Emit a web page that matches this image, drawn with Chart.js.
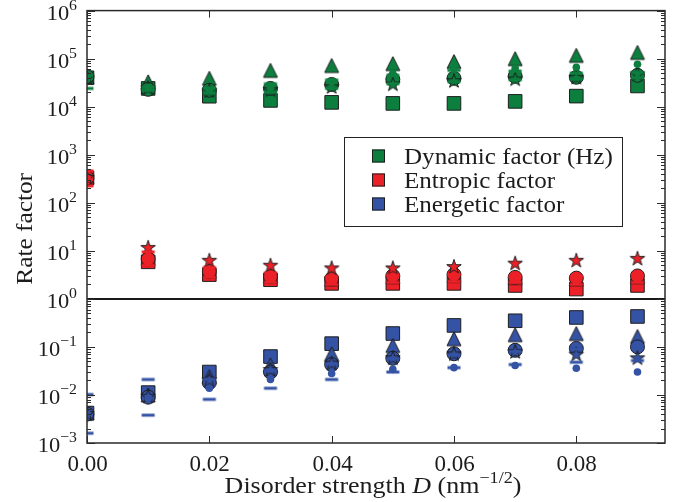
<!DOCTYPE html>
<html>
<head>
<meta charset="utf-8">
<script src="https://cdn.jsdelivr.net/npm/chart.js@4/dist/chart.umd.min.js"></script>
<style>
  html, body { margin: 0; padding: 0; background: #fff; }
  #wrap { width: 682px; height: 502px; }
</style>
</head>
<body>
<div id="wrap"><canvas id="c" width="682" height="502"></canvas></div>
<script>
// Disorder strength D (nm^-1/2)
const disorder = [0, 0.01, 0.02, 0.03, 0.04, 0.05, 0.06, 0.07, 0.08, 0.09];

// Dynamic factor (Hz)
const dynSquare   = [40000, 24000, 16500, 13500, 12300, 11700, 11700, 12900, 16600, 27000];
const dynTriangle = [42000, 33000, 39000, 57000, 72000, 79000, 87000, 100000, 117000, 135000];
const dynCircle   = [42000, 23000, 22000, 24000, 29000, 37000, 39000, 43000, 41000, 45000];
const dynStar     = [40000, 24000, 21000, 22000, 25500, 29000, 34000, 37000, 40000, 47000];
const dynDot      = [38000, 25000, 22000, 26000, 33000, 49000, 63000, 63000, 66000, 76000];
const dynDashHigh = [45000, 26000, 24000, 30000, 36000, 45000, 57000, 55000, 50000, 52000];
const dynDashLow  = [24000, 22000, 19000, 20000, 24000, 30000, 33000, 36000, 38000, 40000];

// Entropic factor
const entSquare   = [330, 5.9, 3.2, 2.5, 2.1, 2.1, 2.1, 1.9, 1.6, 1.9];
const entTriangle = [340, 7.0, 3.8, 3.0, 2.6, 2.9, 3.1, 2.8, 2.6, 2.9];
const entCircle   = [330, 6.8, 3.7, 2.9, 2.6, 3.0, 3.2, 2.8, 2.7, 3.0];
const entStar     = [330, 11.5, 6.2, 4.9, 4.3, 4.3, 4.6, 5.4, 6.2, 6.8];
const entDot      = [320, 7.5, 4.0, 3.2, 2.8, 2.9, 3.0, 2.9, 2.8, 3.0];
const entDashHigh = [460, 9.5, 4.5, 3.5, 2.9, 3.1, 3.2, 3.0, 2.9, 3.1];
const entDashLow  = [225, 5.0, 2.8, 2.2, 2.0, 2.2, 2.3, 2.2, 2.0, 2.2];

// Energetic factor
const eneSquare   = [0.0042, 0.0112, 0.030, 0.063, 0.117, 0.19, 0.28, 0.35, 0.41, 0.43];
const eneTriangle = [0.0042, 0.0100, 0.024, 0.042, 0.072, 0.107, 0.148, 0.18, 0.19, 0.165];
const eneCircle   = [0.0040, 0.0090, 0.018, 0.030, 0.043, 0.058, 0.072, 0.085, 0.093, 0.10];
const eneStar     = [0.0040, 0.0092, 0.020, 0.033, 0.045, 0.058, 0.070, 0.078, 0.069, 0.058];
const eneDot      = [0.0040, 0.0085, 0.0138, 0.021, 0.028, 0.034, 0.037, 0.041, 0.036, 0.030];
const eneDashHigh = [0.0102, 0.021, 0.021, 0.032, 0.044, 0.057, 0.068, 0.080, 0.090, 0.100];
const eneDashLow  = [0.0016, 0.0038, 0.0081, 0.0138, 0.021, 0.030, 0.037, 0.043, 0.048, 0.052];

// Axis ticks and legend text
const xTickValues = [0, 0.02, 0.04, 0.06, 0.08];
const xTickLabels = ['0.00', '0.02', '0.04', '0.06', '0.08'];
const yExponents = [-3, -2, -1, 0, 1, 2, 3, 4, 5, 6];
const legendLabels = ['Dynamic factor (Hz)', 'Entropic factor', 'Energetic factor'];

const GREEN = '#0c7f3f';
const RED = '#ec2027';
const BLUE = '#3553a5';
const EDGE = '#1e1e1e';
const INK = '#1c1c1c';
const FONT = '"Liberation Serif", "Times New Roman", serif';

function markerCanvas(size, draw) {
  const cv = document.createElement('canvas');
  cv.width = size; cv.height = size;
  const g = cv.getContext('2d');
  g.translate(size / 2, size / 2);
  draw(g);
  return cv;
}
function starMarker(color) {
  return markerCanvas(20, g => {
    const R = 7.6, r = R * 0.382;
    g.beginPath();
    for (let i = 0; i < 10; i++) {
      const rad = i % 2 ? r : R;
      const a = -Math.PI / 2 + i * Math.PI / 5;
      const px = Math.cos(a) * rad, py = Math.sin(a) * rad;
      i ? g.lineTo(px, py) : g.moveTo(px, py);
    }
    g.closePath();
    g.fillStyle = color; g.fill();
    g.strokeStyle = EDGE; g.lineWidth = 1; g.stroke();
  });
}
function triangleMarker(color) {
  return markerCanvas(20, g => {
    const h = 7;
    g.beginPath();
    g.moveTo(0, -h); g.lineTo(h, h); g.lineTo(-h, h); g.closePath();
    g.fillStyle = color; g.fill();
    g.strokeStyle = EDGE; g.lineWidth = 1; g.stroke();
  });
}
function dashMarker(color) {
  return markerCanvas(18, g => {
    g.fillStyle = color;
    g.fillRect(-6.5, -1.5, 13, 3);
  });
}

function series(values, color, kind) {
  const base = {
    data: disorder.map((x, i) => ({ x, y: values[i] })),
    showLine: false,
    backgroundColor: color,
    borderColor: EDGE,
    borderWidth: 1
  };
  if (kind === 'square') return { ...base, pointStyle: 'rect', pointRadius: 9.6, order: 7 };
  if (kind === 'triangle') return { ...base, pointStyle: triangleMarker(color), pointRadius: 8, order: 6 };
  if (kind === 'circle') return { ...base, pointStyle: 'circle', pointRadius: 7, order: 5 };
  if (kind === 'star') return { ...base, pointStyle: starMarker(color), pointRadius: 8, order: 4 };
  if (kind === 'dot') return { ...base, pointStyle: 'circle', pointRadius: 3.8, borderWidth: 0, order: 2 };
  return { ...base, pointStyle: dashMarker(color), pointRadius: 7, borderWidth: 0, order: 3 };
}

const groups = [
  [GREEN, [dynSquare, dynTriangle, dynCircle, dynStar, dynDot, dynDashHigh, dynDashLow]],
  [RED,   [entSquare, entTriangle, entCircle, entStar, entDot, entDashHigh, entDashLow]],
  [BLUE,  [eneSquare, eneTriangle, eneCircle, eneStar, eneDot, eneDashHigh, eneDashLow]]
];
const kinds = ['square', 'triangle', 'circle', 'star', 'dot', 'dash', 'dash'];
const datasets = [];
groups.forEach(([color, arrs]) => arrs.forEach((a, k) => datasets.push(series(a, color, kinds[k]))));

// Text runs with optional superscripts and a horizontal stretch factor.
// parts: [text, fontSize, baselineShift, italic]
function drawRuns(ctx, parts, x, y, align, hs) {
  const fontOf = p => (p[3] ? 'italic ' : '') + p[1] + 'px ' + FONT;
  const widths = parts.map(p => { ctx.font = fontOf(p); return ctx.measureText(p[0]).width * hs; });
  const total = widths.reduce((s, w) => s + w, 0);
  let cx = align === 'right' ? x - total : align === 'center' ? x - total / 2 : x;
  ctx.textAlign = 'left';
  ctx.textBaseline = 'alphabetic';
  parts.forEach((p, i) => {
    ctx.save();
    ctx.font = fontOf(p);
    ctx.translate(cx, y + p[2]);
    ctx.scale(hs, 1);
    ctx.fillText(p[0], 0, 0);
    ctx.restore();
    cx += widths[i];
  });
}

const axesDecor = {
  id: 'axesDecor',
  beforeDatasetsDraw(chart) {
    const { ctx, chartArea: a, scales: { y } } = chart;
    const py = Math.round(y.getPixelForValue(1));
    ctx.save();
    ctx.strokeStyle = '#1a1a1a';
    ctx.lineWidth = 2;
    ctx.beginPath(); ctx.moveTo(a.left, py); ctx.lineTo(a.right, py); ctx.stroke();
    ctx.restore();
  },
  afterDraw(chart) {
    const { ctx, chartArea: a, scales: { x, y } } = chart;
    ctx.save();
    const seg = (x1, y1, x2, y2) => { ctx.beginPath(); ctx.moveTo(x1, y1); ctx.lineTo(x2, y2); ctx.stroke(); };
    ctx.strokeStyle = '#2a2a2a';
    ctx.lineWidth = 1.5;
    ctx.strokeRect(a.left, a.top, a.right - a.left, a.bottom - a.top);
    ctx.lineWidth = 1;
    ctx.fillStyle = INK;
    xTickValues.forEach((v, i) => {
      const px = Math.round(x.getPixelForValue(v)) + 0.5;
      seg(px, a.bottom, px, a.bottom - 7);
      seg(px, a.top, px, a.top + 7);
      drawRuns(ctx, [[xTickLabels[i], 23, 0]], px, a.bottom + 28, 'center', 1.0);
    });
    yExponents.forEach(e => {
      const py = Math.round(y.getPixelForValue(Math.pow(10, e))) + 0.5;
      seg(a.left, py, a.left + 8, py);
      seg(a.right, py, a.right - 8, py);
      if (e < 6) {
        for (let m = 2; m <= 9; m++) {
          const pm = Math.round(y.getPixelForValue(m * Math.pow(10, e))) + 0.5;
          seg(a.left, pm, a.left + 4, pm);
          seg(a.right, pm, a.right - 4, pm);
        }
      }
      const exp = e < 0 ? '\u2212' + (-e) : String(e);
      drawRuns(ctx, [['10', 22, 0], [exp, 15.5, -10]], a.left - 10, py + 8, 'right', 1.02);
    });
    // axis titles
    drawRuns(ctx, [['Disorder strength ', 23, 0], ['D', 23, 0, true], [' (nm', 23, 0], ['\u22121/2', 16, -10], [')', 23, 0]],
      373, 493, 'center', 1.13);
    ctx.save();
    ctx.translate(32, (a.top + a.bottom) / 2 + 2);
    ctx.rotate(-Math.PI / 2);
    drawRuns(ctx, [['Rate factor', 23, 0]], 0, 0, 'center', 1.1);
    ctx.restore();
    // legend
    const lx = 344, ly = 137, lw = 278, lh = 89;
    ctx.fillStyle = '#fff';
    ctx.fillRect(lx, ly, lw, lh);
    ctx.strokeStyle = '#222';
    ctx.lineWidth = 1;
    ctx.strokeRect(lx + 0.5, ly + 0.5, lw, lh);
    [GREEN, RED, BLUE].forEach((c, i) => {
      const cy = 156 + i * 24;
      ctx.fillStyle = c;
      ctx.fillRect(372, cy - 6.5, 13, 13);
      ctx.strokeStyle = EDGE;
      ctx.strokeRect(372.5, cy - 6, 12, 12);
      ctx.fillStyle = INK;
      drawRuns(ctx, [[legendLabels[i], 23, 0]], 404, cy + 7.5, 'left', 1.09);
    });
    ctx.restore();
  }
};

new Chart(document.getElementById('c'), {
  type: 'scatter',
  data: { datasets },
  options: {
    responsive: false,
    animation: false,
    events: [],
    layout: { padding: { left: 0, right: 17, top: 9, bottom: 0 } },
    plugins: { legend: { display: false }, tooltip: { enabled: false } },
    scales: {
      x: {
        type: 'linear',
        min: 0,
        max: 0.0945,
        border: { display: false },
        grid: { display: false, drawTicks: false },
        ticks: { display: false, stepSize: 0.02, includeBounds: false },
        afterFit: s => { s.height = 59; }
      },
      y: {
        type: 'logarithmic',
        min: 1e-3,
        max: 1e6,
        border: { display: false },
        grid: { display: false, drawTicks: false },
        ticks: { display: false },
        afterFit: s => { s.width = 87; }
      }
    }
  },
  plugins: [axesDecor]
});
</script>
</body>
</html>
